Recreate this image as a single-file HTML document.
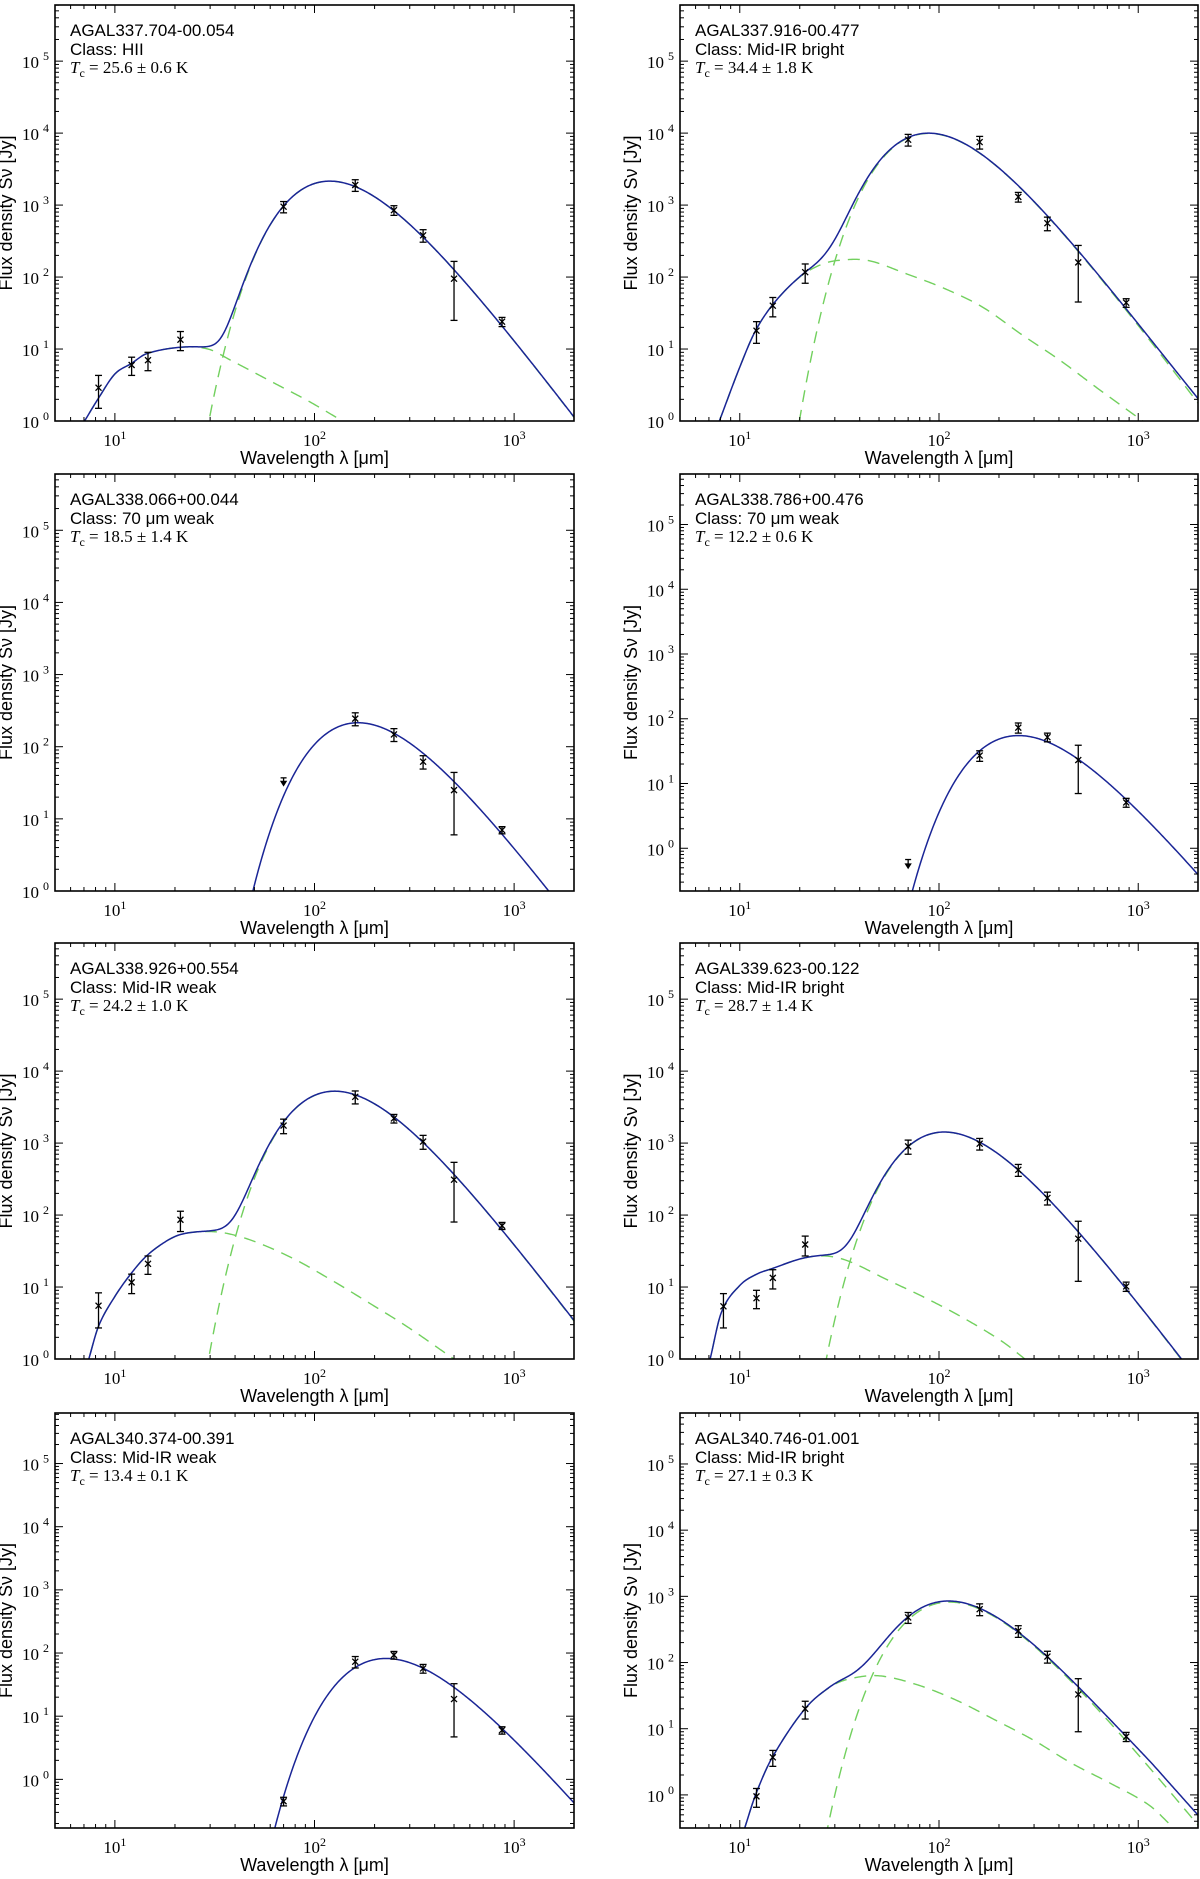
<!DOCTYPE html>
<html><head><meta charset="utf-8"><title>SED fits</title>
<style>
html,body{margin:0;padding:0;background:#fff;overflow:hidden;}
svg{display:block;}
.t{font-family:"Liberation Sans",sans-serif;}
.s{font-family:"Liberation Serif",serif;}
</style></head>
<body>
<svg id="fig" xmlns="http://www.w3.org/2000/svg" width="1200" height="1879" viewBox="0 0 1200 1879"></svg>
<script>
// ---- data ----
const BANDS = [8.28, 12.13, 14.65, 21.3, 70, 160, 250, 350, 500, 870];
const NAMES = ["AGAL337.704-00.054","AGAL337.916-00.477","AGAL338.066+00.044","AGAL338.786+00.476","AGAL338.926+00.554","AGAL339.623-00.122","AGAL340.374-00.391","AGAL340.746-01.001"];
const CLASSES = ["HII","Mid-IR bright","70 \u03bcm weak","70 \u03bcm weak","Mid-IR weak","Mid-IR bright","Mid-IR weak","Mid-IR bright"];
const TC = [25.6, 34.4, 18.5, 12.2, 24.2, 28.7, 13.4, 27.1];
const TC_ERR = [0.6, 1.8, 1.4, 0.6, 1.0, 1.4, 0.1, 0.3];
const COLD_PEAK = [2150, 9900, 215, 55, 5250, 1420, 82, 820];
const YMIN = [0, 0, 0, -0.66, 0, 0, -0.77, -0.5];
const YMAX = [5.78, 5.78, 5.78, 5.78, 5.78, 5.78, 5.8, 5.77];
const FLUX_1 = [2.9, 6, 7, 13.5, 950, 1900, 850, 380, 95, 24];
const ERR_1  = [1.4, 1.7, 2, 4, 170, 350, 130, 75, 70, 3.5];
const FLUX_2 = [null, 18, 40, 117, 8100, 7500, 1300, 560, 160, 44];
const ERR_2  = [null, 6, 12, 35, 1500, 1500, 200, 120, 115, 6];
const FLUX_3 = [null, null, null, null, 33, 245, 148, 62, 25, 7];
const ERR_3  = [null, null, null, null, 4, 50, 30, 13, 19, 0.8];
const FLUX_4 = [null, null, null, null, 0.57, 27, 73, 52, 23, 5.1];
const ERR_4  = [null, null, null, null, 0.1, 5, 13, 8, 16, 0.8];
const FLUX_5 = [5.5, 11.6, 21, 86, 1750, 4400, 2200, 1050, 310, 71];
const ERR_5  = [2.8, 3.5, 6, 27, 400, 900, 300, 230, 230, 8];
const FLUX_6 = [5.4, 7, 13.4, 39, 900, 980, 425, 173, 47, 10.2];
const ERR_6  = [2.7, 2, 4, 12, 200, 180, 80, 35, 35, 1.5];
const FLUX_7 = [null, null, null, null, 0.45, 73, 93, 57, 18.7, 6];
const ERR_7  = [null, null, null, null, 0.07, 15, 13, 9, 14, 0.8];
const FLUX_8 = [null, 0.95, 3.7, 20, 480, 640, 300, 123, 33, 7.6];
const ERR_8  = [null, 0.3, 1, 6, 90, 130, 60, 25, 24, 1.2];
const UPPER_LIMIT = [[],[],[4],[4],[],[],[],[]];
// warm component samples [wavelength um, flux Jy]
const WARM_1 = [[7.05,1],[8.3,2.1],[10,4.5],[12.1,6.3],[14.4,8.6],[21.5,10.6],[29.3,10],[38,7],[65,3.2],[93,1.9],[138,1.0]];
const WARM_2 = [[7.9,1],[10,5.6],[12,18],[15,45],[20,100],[25,145],[31,170],[44,170],[68,112],[107,69],[166,38],[259,16],[404,7],[630,2.8],[982,1.15]];
const WARM_5 = [[7.4,1],[8.3,2.9],[10,7.4],[12.1,15.6],[14.4,27],[18,43],[21.5,54],[28,59],[36,56],[50,43],[78,25],[121,12.6],[188,6],[292,2.8],[475,1.1]];
const WARM_6 = [[7.1,1],[8.1,4.5],[10,10.5],[12.1,15],[14.5,18],[20.6,25],[26.9,27],[35,23],[55,12.6],[86,7],[133,3.7],[207,1.76],[270,1]];
const WARM_8 = [[10.6,0.32],[12,1],[14.5,3.6],[21.1,19.5],[28.2,42],[35,56],[50,63],[78,46],[122,27],[190,13.7],[296,6.8],[464,3],[724,1.5],[1127,0.71],[1470,0.34]];

const FLUXES = [FLUX_1,FLUX_2,FLUX_3,FLUX_4,FLUX_5,FLUX_6,FLUX_7,FLUX_8];
const ERRS = [ERR_1,ERR_2,ERR_3,ERR_4,ERR_5,ERR_6,ERR_7,ERR_8];
const WARMS = [WARM_1,WARM_2,null,null,WARM_5,WARM_6,null,WARM_8];

// ---- layout ----
const COLS = [[55,574],[680,1198]];
const ROWS = [[5,421],[474,891],[943,1359],[1413,1828]];
const XMIN = 0.70, XMAX = 3.30;
const BETA = 1.75;
const NS = "http://www.w3.org/2000/svg";
const svg = document.getElementById('fig');

function mk(tag, attrs, parent){
  const e = document.createElementNS(NS, tag);
  for (const k in attrs) e.setAttribute(k, attrs[k]);
  (parent||svg).appendChild(e);
  return e;
}
function greyG(l, T){ return Math.pow(l, -(3+BETA)) / (Math.expm1(14388/(l*T))); }
function coldFlux(l, T, peak){
  let gmax = 0;
  for (let i=0;i<=600;i++){ const ll = Math.pow(10, 0.5 + i*3/600); const g = greyG(ll,T); if (g>gmax) gmax=g; }
  return peak * greyG(l,T)/gmax;
}
function warmFlux(l, s){
  const X = s.map(p=>Math.log10(p[0])), Y = s.map(p=>Math.log10(p[1]));
  const x = Math.log10(l), n = X.length;
  if (x <= X[0]) { const m=(Y[1]-Y[0])/(X[1]-X[0]); return Math.pow(10, Y[0]+m*(x-X[0])); }
  if (x >= X[n-1]) { const m=(Y[n-1]-Y[n-2])/(X[n-1]-X[n-2]); return Math.pow(10, Y[n-1]+m*(x-X[n-1])); }
  const tan = i => { if (i===0) return (Y[1]-Y[0])/(X[1]-X[0]); if (i===n-1) return (Y[n-1]-Y[n-2])/(X[n-1]-X[n-2]); return (Y[i+1]-Y[i-1])/(X[i+1]-X[i-1]); };
  let i=0; while (X[i+1] < x) i++;
  const h = X[i+1]-X[i], t=(x-X[i])/h;
  const h00=2*t*t*t-3*t*t+1, h10=t*t*t-2*t*t+t, h01=-2*t*t*t+3*t*t, h11=t*t*t-t*t;
  return Math.pow(10, h00*Y[i]+h10*h*tan(i)+h01*Y[i+1]+h11*h*tan(i+1));
}

for (let p=0;p<8;p++){
  const col = COLS[p%2], row = ROWS[Math.floor(p/2)];
  const x0=col[0], x1=col[1], y0=row[0], y1=row[1];
  const ymin=YMIN[p], ymax=YMAX[p];
  const sx = l => x0 + (Math.log10(l)-XMIN)/(XMAX-XMIN)*(x1-x0);
  const sy = v => y1 - (Math.log10(v)-ymin)/(ymax-ymin)*(y1-y0);
  const cl = v => Math.max(y0, Math.min(y1+2, sy(Math.max(v,1e-30)))).toFixed(2);
  const g = mk('g', {});
  
  
  const clipId = 'clip'+p;
  const cp = mk('clipPath', {id:clipId}, g);
  mk('rect', {x:x0, y:y0, width:x1-x0, height:y1-y0}, cp);

  const warm = WARMS[p];
  const N = 500;
  let dTot='', dCold='', dWarm='';
  for (let i=0;i<=N;i++){
    const l = Math.pow(10, XMIN + (XMAX-XMIN)*i/N);
    const c = coldFlux(l, TC[p], COLD_PEAK[p]);
    const w = warm ? warmFlux(l, warm) : 0;
    const px = sx(l).toFixed(2);
    dTot += (i?'L':'M')+px+','+cl(c+w);
    dCold += (i?'L':'M')+px+','+cl(c);
    if (warm){ dWarm += (i?'L':'M')+px+','+cl(w); }
  }
  const cg = mk('g', {'clip-path':'url(#'+clipId+')'}, g);
  if (warm){
    const wc = mk('path', {d:dCold, fill:'none', stroke:'#72d05e', 'stroke-width':1.4, 'stroke-dasharray':'12,8'}, cg);
    
    
    const ww = mk('path', {d:dWarm, fill:'none', stroke:'#72d05e', 'stroke-width':1.4, 'stroke-dasharray':'12,8'}, cg);
    
    
  }
  const tot = mk('path', {d:dTot, fill:'none', stroke:'#1a2596', 'stroke-width':1.5}, cg);
  
  

  const fl = FLUXES[p], er = ERRS[p];
  for (let i=0;i<BANDS.length;i++){
    if (fl[i]==null) continue;
    const px = sx(BANDS[i]), py = sy(fl[i]);
    const pg = mk('g', {stroke:'#000', 'stroke-width':1.3, fill:'none'}, cg);
    
    
    if (UPPER_LIMIT[p].indexOf(i)>=0){
      const top = sy(fl[i]+er[i]);
      mk('line', {x1:px-3, y1:top, x2:px+3, y2:top}, pg);
      mk('line', {x1:px, y1:top, x2:px, y2:py+3}, pg);
      mk('path', {d:'M'+(px-2.5)+','+(py)+'L'+px+','+(py+4)+'L'+(px+2.5)+','+py+'Z', fill:'#000'}, pg);
      continue;
    }
    const lo = Math.max(fl[i]-er[i], 1e-3), hi = fl[i]+er[i];
    const yl = Math.min(sy(lo), y1), yh = sy(hi);
    mk('line', {x1:px, y1:yl, x2:px, y2:yh}, pg);
    mk('line', {x1:px-3.5, y1:yl, x2:px+3.5, y2:yl}, pg);
    mk('line', {x1:px-3.5, y1:yh, x2:px+3.5, y2:yh}, pg);
    mk('path', {d:'M'+(px-3)+','+(py-3)+'L'+(px+3)+','+(py+3)+'M'+(px-3)+','+(py+3)+'L'+(px+3)+','+(py-3)}, pg);
  }

  const tk = mk('g', {stroke:'#000', 'stroke-width':1}, g);
  
  
  for (let d=0; d<=3; d++){
    for (let m=1;m<=9;m++){
      const lv = d + Math.log10(m);
      if (lv < XMIN || lv > XMAX) continue;
      const X = x0 + (lv-XMIN)/(XMAX-XMIN)*(x1-x0);
      const L = m===1 ? 8 : 4;
      mk('line', {x1:X, y1:y1, x2:X, y2:y1-L}, tk);
      mk('line', {x1:X, y1:y0, x2:X, y2:y0+L}, tk);
    }
  }
  for (let d=-1; d<=6; d++){
    for (let m=1;m<=9;m++){
      const lv = d + Math.log10(m);
      if (lv < ymin || lv > ymax) continue;
      const Y = y1 - (lv-ymin)/(ymax-ymin)*(y1-y0);
      const L = m===1 ? 8 : 4;
      mk('line', {x1:x0, y1:Y, x2:x0+L, y2:Y}, tk);
      mk('line', {x1:x1, y1:Y, x2:x1-L, y2:Y}, tk);
    }
  }
  const frame = mk('rect', {x:x0, y:y0, width:x1-x0, height:y1-y0, fill:'none', stroke:'#000', 'stroke-width':1.6}, g);
  
  

  for (let d=1; d<=3; d++){
    const X = x0 + (d-XMIN)/(XMAX-XMIN)*(x1-x0);
    const t = mk('text', {x:X, y:y1+25, 'text-anchor':'middle', 'font-size':17, class:'s'}, g);
    
    
    t.textContent = '10';
    const sup = mk('tspan', {dy:-7, 'font-size':12}, t); sup.textContent = String(d);
  }
  for (let d=Math.ceil(ymin); d<=Math.floor(ymax); d++){
    const Y = y1 - (d-ymin)/(ymax-ymin)*(y1-y0);
    const t = mk('text', {x:x0-16, y:Y+7, 'text-anchor':'end', 'font-size':17, class:'s'}, g);
    
    
    t.textContent = '10';
    const sup = mk('tspan', {x:x0-6, dy:-8, 'font-size':12, 'text-anchor':'end'}, t); sup.textContent = String(d);
  }
  const xt = mk('text', {x:(x0+x1)/2, y:y1+43, 'text-anchor':'middle', 'font-size':18, class:'t'}, g);
  
  
  xt.textContent = 'Wavelength \u03bb [\u03bcm]';
  const ycx = x0 - 43, ycy = (y0+y1)/2;
  const yt = mk('text', {x:ycx, y:ycy, 'text-anchor':'middle', 'font-size':18, class:'t', transform:'rotate(-90 '+ycx+' '+ycy+')'}, g);
  
  
  yt.textContent = 'Flux density S\u03bd [Jy]';

  const a1 = mk('text', {x:x0+15, y:y0+31, 'font-size':17, class:'t'}, g);
  
  
  a1.textContent = NAMES[p];
  const a2 = mk('text', {x:x0+15, y:y0+50, 'font-size':17, class:'t'}, g);
  
  
  a2.textContent = 'Class: ' + CLASSES[p];
  const a3 = mk('text', {x:x0+15, y:y0+68, 'font-size':17, class:'s'}, g);
  
  
  const it = mk('tspan', {'font-style':'italic'}, a3); it.textContent='T';
  const sb = mk('tspan', {dy:4, 'font-size':12}, a3); sb.textContent='c';
  const rest = mk('tspan', {dy:-4}, a3); rest.textContent = ' = ' + TC[p].toFixed(1) + ' \u00b1 ' + TC_ERR[p].toFixed(1) + ' K';
}
</script>
</body></html>
